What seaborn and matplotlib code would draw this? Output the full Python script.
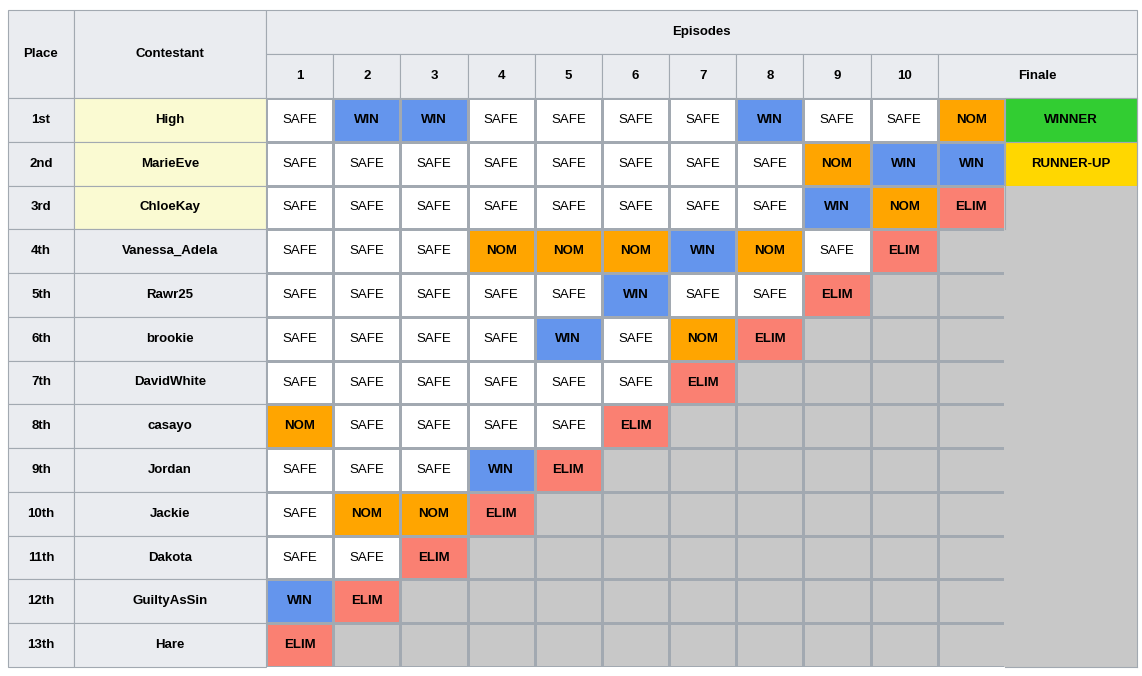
import numpy as np
import pandas as pd
import seaborn as sns
import matplotlib.pyplot as plt
from matplotlib.colors import ListedColormap
from matplotlib.patches import Rectangle

places = ['1st', '2nd', '3rd', '4th', '5th', '6th', '7th', '8th', '9th', '10th', '11th', '12th', '13th']
contestants = ['High', 'MarieEve', 'ChloeKay', 'Vanessa_Adela', 'Rawr25', 'brookie', 'DavidWhite',
               'casayo', 'Jordan', 'Jackie', 'Dakota', 'GuiltyAsSin', 'Hare']
episodes = ['1', '2', '3', '4', '5', '6', '7', '8', '9', '10']
results = [
    ['SAFE', 'WIN', 'WIN', 'SAFE', 'SAFE', 'SAFE', 'SAFE', 'WIN', 'SAFE', 'SAFE', 'NOM'],
    ['SAFE'] * 8 + ['NOM', 'WIN', 'WIN'],
    ['SAFE'] * 8 + ['WIN', 'NOM', 'ELIM'],
    ['SAFE', 'SAFE', 'SAFE', 'NOM', 'NOM', 'NOM', 'WIN', 'NOM', 'SAFE', 'ELIM'],
    ['SAFE'] * 5 + ['WIN', 'SAFE', 'SAFE', 'ELIM'],
    ['SAFE'] * 4 + ['WIN', 'SAFE', 'NOM', 'ELIM'],
    ['SAFE'] * 6 + ['ELIM'],
    ['NOM'] + ['SAFE'] * 4 + ['ELIM'],
    ['SAFE', 'SAFE', 'SAFE', 'WIN', 'ELIM'],
    ['SAFE', 'NOM', 'NOM', 'ELIM'],
    ['SAFE', 'SAFE', 'ELIM'],
    ['WIN', 'ELIM'],
    ['ELIM'],
]
finale_result = ['WINNER', 'RUNNER-UP'] + [''] * 11

codes = {'SAFE': 0, 'WIN': 1, 'NOM': 2, 'ELIM': 3}
colors = ['#ffffff', '#6495ed', '#ffa500', '#fa8072']
final_colors = {'WINNER': '#32cd32', 'RUNNER-UP': '#ffd700'}
GRAY = '#c8c8c8'
HEAD = '#eaecf0'
YELLOW = '#fafad2'
LINE = '#a2a9b1'
FONT = 'Liberation Sans'
FS = 9.5

ncol = 11
grid = np.full((len(results), ncol), np.nan)
for i, row in enumerate(results):
    for j, r in enumerate(row):
        grid[i, j] = codes[r]
df = pd.DataFrame(grid, index=contestants, columns=episodes + ['F'])

W, H = 1142, 676
x0, x1, xf, xend = 8, 74, 266, 1005
xright = 1137
ytop, yh, yd, ybot = 10, 54, 98, 667

fig = plt.figure(figsize=(W / 100, H / 100), dpi=100)
hax = fig.add_axes([xf / W, (H - ybot) / H, (xend - xf) / W, (ybot - yd) / H])
sns.heatmap(df, mask=df.isna(), cmap=ListedColormap(colors), vmin=-0.5, vmax=3.5,
            cbar=False, linewidths=0.8, linecolor=LINE, ax=hax)
hax.set_facecolor(GRAY)
hax.set_xticks([]); hax.set_yticks([])
hax.set_xlabel(''); hax.set_ylabel('')
for i, row in enumerate(results):
    for j, r in enumerate(row):
        hax.text(j + 0.5, i + 0.5, r, ha='center', va='center', fontsize=FS, family=FONT,
                 fontweight='normal' if r == 'SAFE' else 'bold')

ax = fig.add_axes([0, 0, 1, 1], facecolor='none')
ax.set_xlim(0, W); ax.set_ylim(H, 0); ax.axis('off')
rh = (ybot - yd) / len(contestants)
colw = (xend - xf) / ncol


def cell(x, y, w, h, fc, text='', bold=True):
    ax.add_patch(Rectangle((x, y), w, h, facecolor=fc, edgecolor=LINE, lw=0.8))
    if text:
        ax.text(x + w / 2, y + h / 2, text, ha='center', va='center', fontsize=FS,
                family=FONT, fontweight='bold' if bold else 'normal')


cell(x0, ytop, x1 - x0, yd - ytop, HEAD, 'Place')
cell(x1, ytop, xf - x1, yd - ytop, HEAD, 'Contestant')
cell(xf, ytop, xright - xf, yh - ytop, HEAD, 'Episodes')
for j, e in enumerate(episodes):
    cell(xf + j * colw, yh, colw, yd - yh, HEAD, e)
cell(xf + 10 * colw, yh, xright - xf - 10 * colw, yd - yh, HEAD, 'Finale')
for i, (p, c) in enumerate(zip(places, contestants)):
    y = yd + i * rh
    cell(x0, y, x1 - x0, rh, HEAD, p)
    cell(x1, y, xf - x1, rh, YELLOW if i < 3 else HEAD, c)
    if finale_result[i]:
        cell(xend, y, xright - xend, rh, final_colors[finale_result[i]], finale_result[i])
    else:
        ax.add_patch(Rectangle((xend - 1, y), xright - xend + 1, rh, facecolor=GRAY, lw=0))
# grey block border lines
ax.plot([xright, xright], [yd, ybot], color=LINE, lw=0.8)
ax.plot([xend, xright], [ybot, ybot], color=LINE, lw=0.8)
ax.plot([xend, xend], [yd + 3 * rh, yd + 2 * rh], color=LINE, lw=0.8)

fig.savefig('out.png', dpi=100, facecolor='white')
